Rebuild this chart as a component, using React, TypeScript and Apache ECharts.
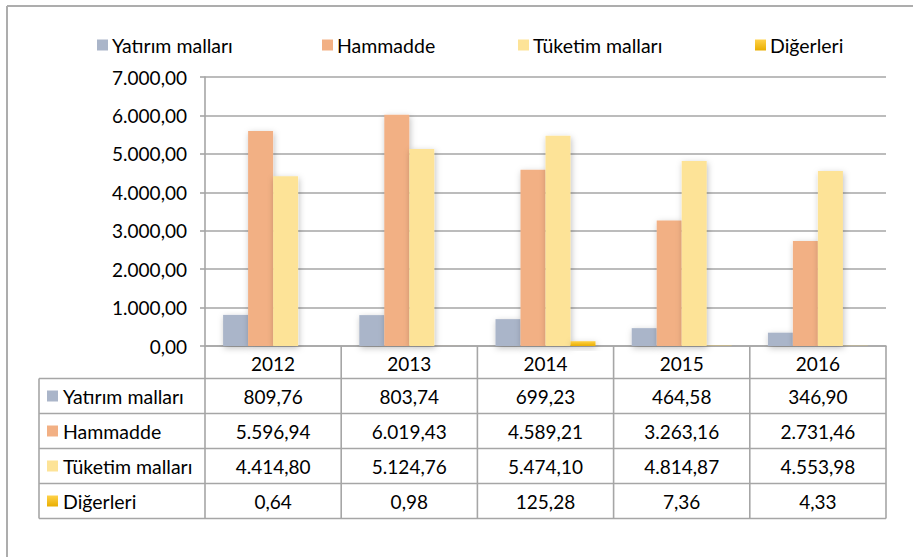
import React, { useEffect, useRef } from "react";
import * as echarts from "echarts";

const years = ["2012", "2013", "2014", "2015", "2016"];
const seriesNames = ["Yatırım malları", "Hammadde", "Tüketim malları", "Diğerleri"];
const yatirim = [809.76, 803.74, 699.23, 464.58, 346.9];
const hammadde = [5596.94, 6019.43, 4589.21, 3263.16, 2731.46];
const tuketim = [4414.8, 5124.76, 5474.1, 4814.87, 4553.98];
const digerleri = [0.64, 0.98, 125.28, 7.36, 4.33];
const allData = [yatirim, hammadde, tuketim, digerleri];

const FONT = "Lato, 'Open Sans', sans-serif";
const NUM_SIZE = 19;
const WORD_SIZE = 19.5;
const GRID_LEFT = 205;
const GRID_RIGHT_X = 886;
const GRID_TOP = 77;
const GRID_BOTTOM_Y = 346;
const W = 913;
const H = 557;
const LINE = "#A6A6A6";

function fmt(v: number): string {
  const [i, d] = v.toFixed(2).split(".");
  return i.replace(/\B(?=(\d{3})+(?!\d))/g, ".") + "," + d;
}

const goldGradient = () =>
  new echarts.graphic.LinearGradient(0, 0, 0, 1, [
    { offset: 0, color: "#FFD24A" },
    { offset: 1, color: "#E9AE00" },
  ]);

const colors: any[] = ["#AAB5C9", "#F2B084", "#FDE397", goldGradient()];

export default function App() {
  const ref = useRef<HTMLDivElement>(null);
  useEffect(() => {
    if (!ref.current) return;
    const chart = echarts.init(ref.current, null, { renderer: "svg" });

    const colW = (GRID_RIGHT_X - GRID_LEFT) / years.length;
    const headerBottom = 378.5;
    const rowH = 35;
    const tableLeft = 39;
    const tableBottom = headerBottom + rowH * seriesNames.length;
    const g: any[] = [];
    const lineStyle = { stroke: LINE, lineWidth: 1.6 };

    // outer frame
    g.push({ type: "line", shape: { x1: 7, y1: 6, x2: W, y2: 6 }, style: { stroke: "#ADADAD", lineWidth: 2 } });
    g.push({ type: "line", shape: { x1: 7, y1: 6, x2: 7, y2: H }, style: { stroke: "#ADADAD", lineWidth: 2 } });

    // vertical column lines
    for (let i = 0; i <= years.length; i++) {
      const x = GRID_LEFT + i * colW;
      g.push({ type: "line", shape: { x1: x, y1: GRID_BOTTOM_Y, x2: x, y2: tableBottom }, style: lineStyle });
    }
    g.push({ type: "line", shape: { x1: tableLeft, y1: headerBottom, x2: tableLeft, y2: tableBottom }, style: lineStyle });
    for (let r = 0; r <= seriesNames.length; r++) {
      const y = headerBottom + r * rowH;
      g.push({ type: "line", shape: { x1: tableLeft, y1: y, x2: GRID_RIGHT_X, y2: y }, style: lineStyle });
    }
    // header years
    years.forEach((yr, i) => {
      g.push({
        type: "text",
        x: GRID_LEFT + (i + 0.5) * colW,
        y: (GRID_BOTTOM_Y + headerBottom) / 2 + 1,
        style: { text: yr, fontSize: NUM_SIZE, fontFamily: FONT, fill: "#000", align: "center", verticalAlign: "middle", textAlign: "center", textVerticalAlign: "middle" },
      });
    });
    // rows
    seriesNames.forEach((name, r) => {
      const cy = headerBottom + (r + 0.5) * rowH;
      g.push({
        type: "rect",
        shape: { x: 47, y: cy - 5.5, width: 11, height: 11 },
        style: { fill: r === 3 ? goldGradient() : colors[r] },
      });
      g.push({
        type: "text",
        x: 63,
        y: cy,
        style: { text: name, fontSize: WORD_SIZE, fontFamily: FONT, fill: "#000", align: "left", verticalAlign: "middle", textAlign: "left", textVerticalAlign: "middle" },
      });
      allData[r].forEach((v, i) => {
        g.push({
          type: "text",
          x: GRID_LEFT + (i + 0.5) * colW,
          y: cy,
          style: { text: fmt(v), fontSize: NUM_SIZE, fontFamily: FONT, fill: "#000", align: "center", verticalAlign: "middle", textAlign: "center", textVerticalAlign: "middle" },
        });
      });
    });

    const legendLefts = [97, 322, 518, 755];
    const legends = seriesNames.map((n, i) => ({
      data: [n],
      left: legendLefts[i],
      top: 35,
      padding: 0,
      itemWidth: 11,
      itemHeight: 11,
      itemGap: 0,
      icon: "rect",
      selectedMode: false,
      textStyle: { fontSize: WORD_SIZE, fontFamily: FONT, color: "#000", lineHeight: 19, padding: [0, 0, 0, -1] },
    }));

    chart.setOption({
      animation: false,
      backgroundColor: "#fff",
      legend: legends,
      grid: { left: GRID_LEFT, right: W - GRID_RIGHT_X, top: GRID_TOP, bottom: H - GRID_BOTTOM_Y, containLabel: false },
      xAxis: {
        type: "category",
        data: years,
        axisLine: { show: true, lineStyle: { color: LINE, width: 1.6 } },
        axisTick: { show: false },
        axisLabel: { show: false },
      },
      yAxis: {
        type: "value",
        min: 0,
        max: 7000,
        interval: 1000,
        axisLine: { show: true, lineStyle: { color: LINE, width: 1.6 } },
        axisTick: { show: true, length: 5, lineStyle: { color: LINE, width: 1.6 } },
        splitLine: { show: true, lineStyle: { color: LINE, width: 1.6 } },
        axisLabel: { formatter: (v: number) => fmt(v), fontSize: NUM_SIZE, fontFamily: FONT, color: "#000", margin: 18 },
      },
      series: seriesNames.map((name, i) => ({
        name,
        type: "bar",
        data: allData[i],
        barWidth: 25,
        barGap: "0%",
        itemStyle: {
          color: colors[i],
          shadowBlur: 6,
          shadowColor: "rgba(0,0,0,0.25)",
          shadowOffsetX: 1,
          shadowOffsetY: 2,
        },
      })),
      graphic: g,
    });
    return () => chart.dispose();
  }, []);
  return <div ref={ref} style={{ position: "fixed", left: 0, top: 0, width: W, height: H }} />;
}
